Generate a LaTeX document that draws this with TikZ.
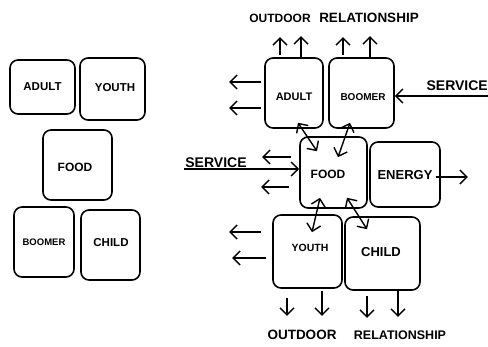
\documentclass[tikz,border=0pt]{standalone}
\usepackage{fontspec}
\setmainfont{Liberation Sans}
\usetikzlibrary{arrows.meta,calc}
\tikzset{
  box/.style={draw, line width=1.6pt, rounded corners=8pt, inner sep=0pt, align=center},
  lab/.style={inner sep=1pt, font=\bfseries\fontsize{#1}{#1}\selectfont},
  lab/.default=12,
  tip/.tip={Straight Barb[length=7pt,width=14pt]},
  arr/.style={line width=1.4pt, -tip},
  dbl/.style={line width=1.4pt, tip-tip}
}
\begin{document}
\begin{tikzpicture}[x=1pt,y=-1pt]
\useasboundingbox (0,0) rectangle (488,346);
% left group
\node[box, minimum width=65pt, minimum height=54pt] (la) at (42.5,87) {};
\node[lab=11.5] (tla) at (la.center) {ADULT};
\node[box, minimum width=65pt, minimum height=62pt] (ly) at (112.5,89) {};
\node[lab=11.5] (tly) at (115,88) {YOUTH};
\node[box, minimum width=69pt, minimum height=70pt] (lf) at (77.5,165) {};
\node[lab=12] (tlf) at (75,167) {FOOD};
\node[box, minimum width=60pt, minimum height=70pt] (lb) at (44,242) {};
\node[lab=9.5] (tlb) at (44,242) {BOOMER};
\node[box, minimum width=59pt, minimum height=70pt] (lc) at (110.5,245) {};
\node[lab=11.5] (tlc) at (111,243) {CHILD};
% right group
\node[box, minimum width=58pt, minimum height=70pt] (ra) at (294,93) {};
\node[lab=11] (tra) at (294,97) {ADULT};
\node[box, minimum width=65pt, minimum height=70pt] (rb) at (361.5,93) {};
\node[lab=10] (trb) at (363,97) {BOOMER};
\node[box, minimum width=67pt, minimum height=71pt] (rf) at (333.5,172.5) {};
\node[lab=12] (trf) at (328,174) {FOOD};
\node[box, minimum width=70pt, minimum height=65pt] (re) at (405,174.5) {};
\node[lab=13] (tre) at (405,175) {ENERGY};
\node[box, minimum width=69pt, minimum height=73pt] (ry) at (307.5,251.5) {};
\node[lab=10.5] (try) at (310,248) {YOUTH};
\node[box, minimum width=75pt, minimum height=73pt] (rc) at (382.5,253.5) {};
\node[lab=13] (trc) at (381,252) {CHILD};
% outer labels
\node[lab=12] (out1) at (280,18) {OUTDOOR};
\node[lab=13.5] (rel1) at (369,18) {RELATIONSHIP};
\node[lab=13.5] (out2) at (302,335) {OUTDOOR};
\node[lab=12.5] (rel2) at (400,335) {RELATIONSHIP};
\node[lab=14, anchor=south] (ls) at (216,169) {SERVICE};
\node[lab=14, anchor=south east] (rs) at (489,92) {SERVICE};
\coordinate (sv) at (488,96);
% service arrows
\draw[arr] (ls.south west) -- (ls.south west -| rf.west);
\draw[arr] (sv) -- (sv -| rb.east);
% up arrows
\draw[arr] ($(ra.north)+(-14,-2)$) -- ++(0,18pt);
\draw[arr] ($(ra.north)+(7,0)$) -- ++(0,21pt);
\draw[arr] ($(rb.north)+(-18.5,-2)$) -- ++(0,18pt);
\draw[arr] ($(rb.north)+(8.5,0)$) -- ++(0,21pt);
% left arrows
\draw[arr] ($(ra.west)+(-3,-11)$) -- ++(-32pt,0);
\draw[arr] ($(ra.west)+(-3,15)$) -- ++(-32pt,0);
\draw[arr] ($(rf.west)+(-8,-15.5)$) -- ++(-29pt,0);
\draw[arr] ($(rf.west)+(-10,14.5)$) -- ++(-28pt,0);
\draw[arr] ($(ry.west)+(-11,-19.5)$) -- ++(-32pt,0);
\draw[arr] ($(ry.west)+(-6,6.5)$) -- ++(-34pt,0);
% energy arrow
\draw[arr] ($(re.east)+(-5,2.5)$) -- ++(32pt,0);
% down arrows
\draw[arr] ($(ry.south)+(-20.5,9)$) -- ++(0,-18pt);
\draw[arr] ($(ry.south)+(14.5,2)$) -- ++(0,-25pt);
\draw[arr] ($(rc.south)+(-15.5,5)$) -- ++(0,-22pt);
\draw[arr] ($(rc.south)+(15.5,0)$) -- ++(0,-26pt);
% two-way arrows
\draw[dbl] ($(ra.south)+(4,-6)$) -- ($(rf.north)+(-16.5,15)$);
\draw[dbl] ($(rb.south)+(-11.5,-6)$) -- ($(rf.north)+(4.5,21)$);
\draw[dbl] ($(rf.south)+(-13.5,-11)$) -- ($(ry.north)+(4.5,18)$);
\draw[dbl] ($(rf.south)+(13.5,-11)$) -- ($(rc.north)+(-15.5,13)$);
\end{tikzpicture}
\end{document}
